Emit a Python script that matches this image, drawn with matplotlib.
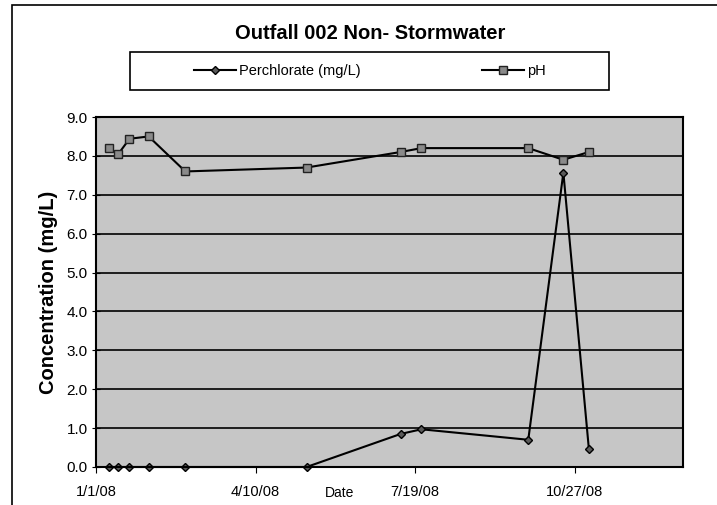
import datetime as dt
import matplotlib
matplotlib.use("Agg")
import matplotlib.pyplot as plt
import matplotlib.dates as mdates
from matplotlib.patches import Rectangle

plt.rcParams['font.family'] = ['Liberation Sans', 'DejaVu Sans']

# sample dates
sample_dates = ["2008-01-09", "2008-01-15", "2008-01-22", "2008-02-03", "2008-02-26",
                "2008-05-12", "2008-07-10", "2008-07-23", "2008-09-28", "2008-10-20",
                "2008-11-05"]
perchlorate = [0.0, 0.0, 0.0, 0.0, 0.0, 0.0, 0.85, 0.97, 0.7, 7.57, 0.46]
ph = [8.2, 8.05, 8.44, 8.5, 7.6, 7.7, 8.1, 8.2, 8.2, 7.9, 8.1]

tick_dates = ["2008-01-01", "2008-04-10", "2008-07-19", "2008-10-27"]
tick_labels = ["1/1/08", "4/10/08", "7/19/08", "10/27/08"]
y_ticks = [0, 1, 2, 3, 4, 5, 6, 7, 8, 9]

dates = [dt.datetime.strptime(d, "%Y-%m-%d") for d in sample_dates]
tdates = [dt.datetime.strptime(d, "%Y-%m-%d") for d in tick_dates]

W, H = 717, 505
fig = plt.figure(figsize=(W / 100, H / 100), dpi=100)
ax = fig.add_axes([96 / W, 1 - 467 / H, (683 - 96) / W, (467 - 117) / H])
ax.set_facecolor('#c6c6c6')

# outer chart border (runs off the right and bottom of the scan)
fig.patches.append(Rectangle((12 / W, -0.1), 1.2, 1 - 5 / H + 0.1,
                             transform=fig.transFigure, fill=False,
                             edgecolor='black', linewidth=1.2))
# legend box
fig.patches.append(Rectangle((130 / W, 1 - 90 / H), (609 - 130) / W, 38 / H,
                             transform=fig.transFigure, fill=False,
                             edgecolor='black', linewidth=1.2))

ax.plot(dates, perchlorate, color='black', linewidth=1.5, marker='D', markersize=4.5,
        markerfacecolor='#5a5a5a', markeredgecolor='black', clip_on=False,
        label='Perchlorate (mg/L)')
ax.plot(dates, ph, color='black', linewidth=1.5, marker='s', markersize=6,
        markerfacecolor='#8a8a8a', markeredgecolor='#222222', clip_on=False,
        label='pH')

ax.set_ylim(0, 9)
ax.set_yticks(y_ticks)
ax.set_yticklabels([f"{v:.1f}" for v in y_ticks], fontsize=11)
ax.yaxis.grid(True, color='black', linewidth=1.2)
ax.set_axisbelow(True)

ax.set_xlim(dt.datetime(2008, 1, 1), dt.datetime(2008, 1, 1) + dt.timedelta(days=368))
ax.set_xticks([mdates.date2num(d) for d in tdates])
ax.set_xticklabels(tick_labels, fontsize=10.5)
ax.tick_params(axis='x', direction='out', length=4, pad=9)
ax.tick_params(axis='y', direction='inout', length=6, pad=3)

for s in ax.spines.values():
    s.set_linewidth(1.5)

ax.set_ylabel("Concentration (mg/L)", fontsize=14.5, fontweight='bold', labelpad=6)
fig.text(340 / W, 1 - 493 / H, "Date", fontsize=10, ha='center', va='center')

fig.text(370 / W, 1 - 33 / H, "Outfall 002 Non- Stormwater", fontsize=14.5,
         fontweight='bold', ha='center', va='center')

leg = fig.legend(loc='center', bbox_to_anchor=(370 / W, 1 - 71 / H), ncol=2,
                 frameon=False, fontsize=10.5, columnspacing=8.3,
                 handlelength=2.9, handletextpad=0.2)

fig.savefig("out.png", dpi=100)
